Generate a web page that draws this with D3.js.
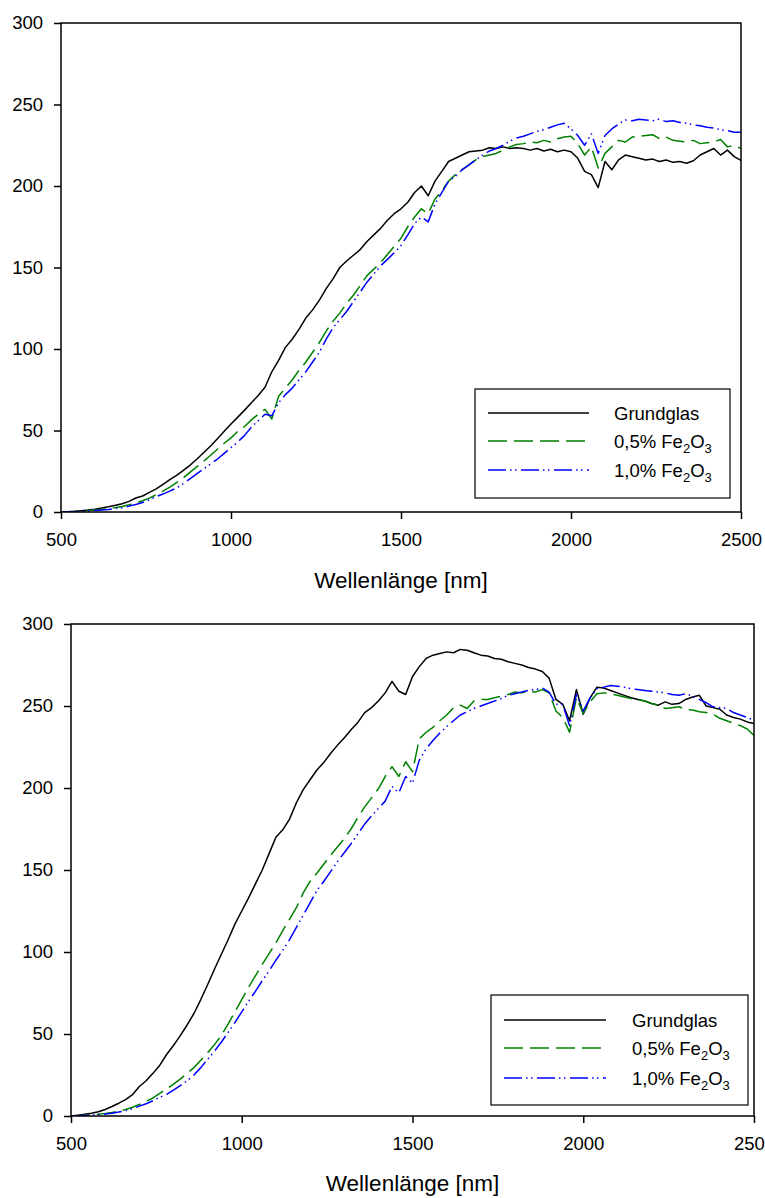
<!DOCTYPE html>
<html lang="de">
<head>
<meta charset="UTF-8">
<title>Wellenlänge</title>
<script src="https://d3js.org/d3.v7.min.js"></script>
<style>
    body { margin: 0; background: #fff; }
    svg { display: block; }
</style>
</head>
<body>
<div id="chart"></div>
<script>
// sample grid (nm), shared by all six curves
const wavelengths = d3.range(500, 2501, 20);
const xTicks = [500, 1000, 1500, 2000, 2500];
const yTicks = [0, 50, 100, 150, 200, 250, 300];
const seriesNames = ["Grundglas", "0,5% Fe2O3", "1,0% Fe2O3"];

// upper chart
const topGrundglas = [
    0, 0.2, 0.4, 0.8, 1.2, 1.7, 2.4, 3.2, 4.1, 5.1,
    6.5, 8.6, 9.8, 12, 14.2, 17, 19.8, 22.5, 25.5, 28.8,
    32.5, 36.5, 40.5, 45, 49.5, 54, 58.2, 62.5, 67, 71.5,
    76.5, 86, 93, 101, 106, 112, 119, 124, 130, 137,
    143, 150, 154, 157.5, 161, 166, 170, 174, 179, 183,
    186, 190, 196, 200, 194, 203, 209, 215, 217, 219,
    221, 221.5, 222, 223.5, 223, 224, 223, 223.5, 223, 222,
    223, 221.5, 222.5, 221, 222, 221, 217, 209, 207, 199,
    215, 210, 216, 219, 218, 217, 216, 216.5, 215, 216,
    214.5, 215, 214, 215.5, 219, 221, 223, 219, 222, 218,
    215.7
];
const topFe05 = [
    0, 0.1, 0.3, 0.5, 0.8, 1.2, 1.6, 2.1, 2.7, 3.4,
    4.4, 5.5, 6.9, 8.5, 10.6, 12.8, 15.3, 18, 21, 24.5,
    27.8, 31.2, 34.8, 38.5, 42.2, 45.5, 49.5, 52.5, 56.5, 60,
    63, 57, 71, 76, 81, 87, 92, 98, 104, 111,
    117, 122, 128, 133, 139, 145, 149, 153, 158, 163,
    168, 175, 181, 186, 183, 192, 197, 203, 207, 210,
    213, 216, 218, 219, 220, 222, 224, 225.5, 226, 227,
    226.5, 228, 227, 229, 230, 230.5, 226, 219, 224, 211,
    220, 224, 228, 227, 230, 230.5, 231, 231.5, 229, 230,
    228, 227.5, 227, 228, 226, 226.5, 227, 228.5, 224, 225,
    223
];
const topFe10 = [
    0, 0.1, 0.2, 0.4, 0.6, 0.9, 1.2, 1.6, 2.1, 2.6,
    3.6, 4.6, 5.8, 7.5, 9.5, 11, 12.8, 14.8, 17.5, 20.5,
    23.5, 26.5, 29.5, 32.5, 36, 39.5, 43, 47, 52, 56,
    60, 59, 67, 72, 76, 81, 86, 92, 98, 106,
    113, 118, 123, 129, 135, 141, 146, 151, 155, 159,
    163.5, 170, 177, 181, 178, 189, 196, 203, 206, 210,
    213, 216, 219, 221.5, 223, 225, 227.5, 229.5, 230.5, 232,
    233.5, 234.5, 236, 237.5, 238.5, 235, 231, 225, 232, 220,
    231, 235, 238, 240.5, 240, 241, 240.5, 240, 241, 239.5,
    240, 239, 238.5, 237.5, 237, 236, 235.5, 234.5, 234, 233,
    233
];

// lower chart
const bottomGrundglas = [
    0, 0.5, 1, 1.7, 2.6, 4, 5.8, 7.8, 10, 13,
    18, 21.5, 26, 31, 37.5, 43, 49, 55.5, 62.5, 71,
    80, 89.5, 98.5, 107.5, 117, 125, 133, 141.5, 150, 160,
    170, 174.5, 181, 191, 199, 205, 211, 215.5, 221, 226,
    230.5, 235.5, 240, 246, 249, 253, 258, 265, 259, 257,
    268, 274, 279, 281, 282, 283, 282.5, 284.5, 284, 282.5,
    281, 280.5, 279, 278.5, 277, 276, 275, 273.5, 272.5, 271,
    267, 254, 251, 241, 260, 245, 255, 261.5, 261, 259.5,
    258, 256.5, 255, 254, 253, 251.5, 250.5, 252.5, 251, 251.5,
    254, 255.5, 256.5, 250, 249, 248, 244.5, 243, 242, 240.3,
    239.3
];
const bottomFe05 = [
    0, 0.2, 0.4, 0.7, 1.1, 1.6, 2.2, 3, 4, 5.3,
    7, 9, 11, 13.8, 16.5, 19.5, 22.5, 26, 29.5, 34,
    38.5, 43.5, 49, 56, 63.5, 71, 78.5, 85.5, 92.5, 99,
    105.5, 113, 120, 127, 136, 143, 148, 153.5, 159, 164,
    169, 175, 182, 188.5, 194, 199.5, 207, 213, 207, 216,
    210, 230, 234, 237, 241, 244.5, 249, 250.5, 248.5, 253,
    254, 254, 255, 256, 257, 258.5, 258, 259, 258.5, 260,
    258, 247, 243, 234, 255, 245.5, 252.5, 257.5, 258, 257.5,
    256.5, 255.5, 254.5, 254, 253, 251.5, 250.5, 248.5, 249, 249.5,
    248, 247.5, 246.5, 246, 245, 242.5, 241, 239.5, 238, 236,
    232
];
const bottomFe10 = [
    0, 0.1, 0.3, 0.5, 0.8, 1.2, 1.7, 2.4, 3.3, 4.4,
    6, 7.5, 9.3, 11.5, 13.2, 15.8, 18.5, 21.5, 25, 29.5,
    34.5, 39.5, 45, 51, 57, 63.5, 70, 76, 82.5, 88.5,
    95, 101, 107.5, 115, 122.5, 130, 137.5, 143, 149, 155,
    160.5, 166, 172, 178, 183, 187.5, 192, 201, 197, 207,
    203, 217, 224, 229, 233.5, 237.5, 241, 244.5, 246.5, 248.5,
    250, 251.5, 253, 254.5, 256.5, 257.5, 258.5, 259.5, 260, 261,
    258.5, 251, 251, 238, 257, 247, 255, 260.5, 261.5, 262.5,
    262, 261.5, 260.5, 260, 259.5, 259, 258.5, 258, 257, 256.5,
    257.5, 256, 254, 252, 249.5, 249, 248.5, 246, 244.5, 243,
    241.3
];

const font = "'Liberation Sans', Arial, sans-serif";
const styles = [
    { color: "#000000", dash: null },
    { color: "#008000", dash: "19,7" },
    { color: "#0000ff", dash: "18,4,1.5,3.5,1.5,4.5" }
];

const svg = d3.select("#chart")
    .append("svg")
    .attr("width", 765)
    .attr("height", 1198);

svg.append("rect").attr("width", 765).attr("height", 1198).attr("fill", "#fff");

function drawChart(id, box, legend, values) {
    const x = d3.scaleLinear().domain([500, 2500]).range([box.left, box.right]);
    const y = d3.scaleLinear().domain([0, 300]).range([box.bottom, box.top]);

    svg.append("clipPath")
        .attr("id", id)
        .append("rect")
        .attr("x", box.left)
        .attr("y", box.top)
        .attr("width", box.right - box.left)
        .attr("height", box.bottom - box.top);

    const line = d3.line()
        .x((d, i) => x(wavelengths[i]))
        .y(d => y(d));

    values.forEach((v, i) => {
        svg.append("path")
            .datum(v)
            .attr("clip-path", `url(#${id})`)
            .attr("fill", "none")
            .attr("stroke", styles[i].color)
            .attr("stroke-width", 1.5)
            .attr("stroke-dasharray", styles[i].dash)
            .attr("stroke-linejoin", "round")
            .attr("d", line);
    });

    // axes
    const yAxis = svg.append("g")
        .attr("transform", `translate(${box.left},0)`)
        .call(d3.axisLeft(y).tickValues(yTicks).tickSize(7).tickPadding(11));
    const xAxis = svg.append("g")
        .attr("transform", `translate(0,${box.bottom})`)
        .call(d3.axisBottom(x).tickValues(xTicks).tickFormat(d3.format("d")).tickSize(7).tickPadding(14));

    [xAxis, yAxis].forEach(g => {
        g.select(".domain").remove();
        g.selectAll("line").attr("stroke", "#000").attr("stroke-width", 1.5);
        g.selectAll("text")
            .attr("fill", "#000")
            .attr("font-family", font)
            .attr("font-size", "18.5px");
    });

    // frame
    svg.append("rect")
        .attr("x", box.left)
        .attr("y", box.top)
        .attr("width", box.right - box.left)
        .attr("height", box.bottom - box.top)
        .attr("fill", "none")
        .attr("stroke", "#000")
        .attr("stroke-width", 1.5);

    // x axis title
    svg.append("text")
        .attr("x", (box.left + box.right) / 2)
        .attr("y", box.titleY)
        .attr("text-anchor", "middle")
        .attr("font-family", font)
        .attr("font-size", "22.5px")
        .text("Wellenlänge [nm]");

    // legend
    const lg = svg.append("g");
    lg.append("rect")
        .attr("x", legend.x)
        .attr("y", legend.y)
        .attr("width", legend.w)
        .attr("height", legend.h)
        .attr("fill", "#fff")
        .attr("stroke", "#000")
        .attr("stroke-width", 1.2);

    seriesNames.forEach((name, i) => {
        const ly = legend.rows[i];
        lg.append("line")
            .attr("x1", legend.lineX1)
            .attr("x2", legend.lineX2)
            .attr("y1", ly)
            .attr("y2", ly)
            .attr("stroke", styles[i].color)
            .attr("stroke-width", 1.5)
            .attr("stroke-dasharray", styles[i].dash);

        const t = lg.append("text")
            .attr("x", legend.textX)
            .attr("y", ly + 6.5)
            .attr("font-family", font)
            .attr("font-size", "18.5px");

        if (i === 0) {
            t.text(name);
        } else {
            t.append("tspan").text(name.slice(0, 7));
            t.append("tspan").attr("dy", 5).attr("font-size", "13px").text("2");
            t.append("tspan").attr("dy", -5).text("O");
            t.append("tspan").attr("dy", 5).attr("font-size", "13px").text("3");
        }
    });
}

drawChart("clipTop",
    { left: 61, right: 741, top: 23, bottom: 512, titleY: 588 },
    { x: 475, y: 389, w: 255, h: 109, lineX1: 488, lineX2: 589, textX: 614, rows: [413, 441, 470] },
    [topGrundglas, topFe05, topFe10]);

drawChart("clipBottom",
    { left: 71, right: 754, top: 624, bottom: 1116, titleY: 1191 },
    { x: 491, y: 995, w: 257, h: 110, lineX1: 504, lineX2: 606, textX: 632, rows: [1020, 1048, 1078] },
    [bottomGrundglas, bottomFe05, bottomFe10]);
</script>
</body>
</html>
